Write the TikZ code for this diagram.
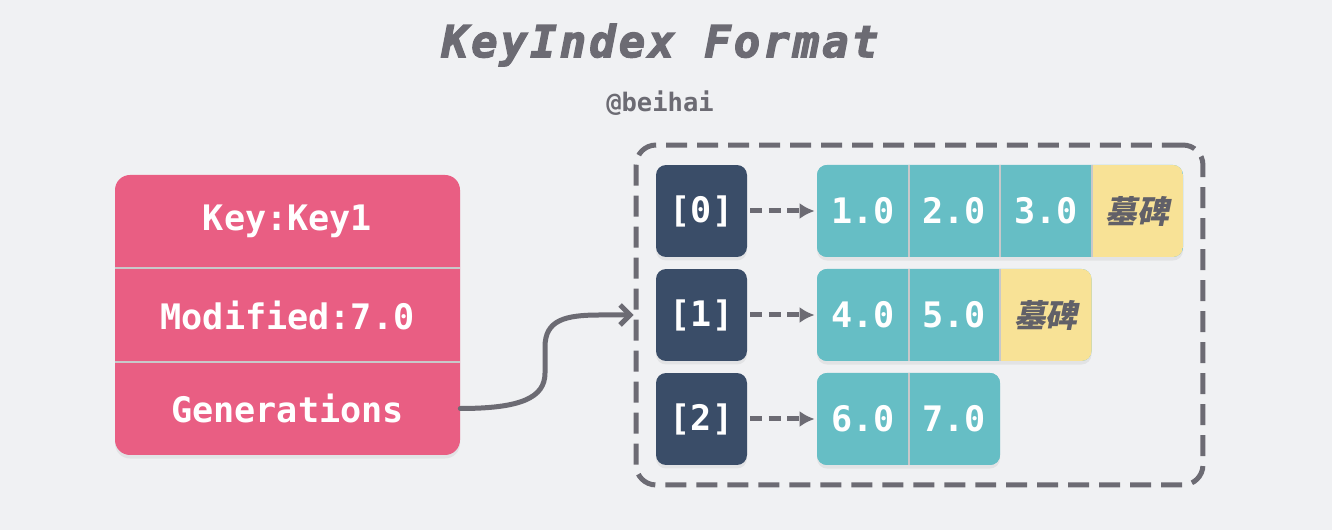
\documentclass[tikz,border=0pt]{standalone}
\usepackage{fontspec}
\usetikzlibrary{arrows.meta,shadows}
\newfontfamily\titlefont[LetterSpace=7,BoldItalicFeatures={FakeBold=3}]{DejaVu Sans Mono}
\newfontfamily\monofont{DejaVu Sans Mono}
\newfontfamily\cjk[FakeSlant=0.2]{Noto Sans CJK SC}
\definecolor{bgcol}{HTML}{F0F1F3}
\definecolor{keypink}{HTML}{E95E83}
\definecolor{navy}{HTML}{3A4D68}
\definecolor{cellteal}{HTML}{66BEC5}
\definecolor{tombyellow}{HTML}{F8E296}
\definecolor{inkgray}{HTML}{6C6B73}
\definecolor{divgray}{HTML}{C8C8CA}
\tikzset{>={Latex[length=0.3cm,width=0.32cm]}}
\tikzset{
    softshadow/.style={drop shadow={shadow xshift=0pt,shadow yshift=-2pt,opacity=0.12}},
    keyrow/.style={minimum width=6.9cm,minimum height=1.86cm,inner sep=0pt,
        text=white,font=\monofont\bfseries\fontsize{20}{24}\selectfont},
    idxbox/.style={fill=navy,rounded corners=0.2cm,minimum width=1.82cm,minimum height=1.84cm,
        inner sep=0pt,text=white,font=\monofont\bfseries\fontsize{20}{24}\selectfont,softshadow},
    numcell/.style={fill=cellteal,minimum width=1.83cm,minimum height=1.84cm,inner sep=0pt,
        text=white,font=\monofont\bfseries\fontsize{20}{24}\selectfont},
    tombcell/.style={numcell,fill=tombyellow,text=inkgray!90!black,font=\cjk\bfseries\fontsize{18}{22}\selectfont},
    celldiv/.style={divgray,line width=0.04cm},
    dasharrow/.style={->,inkgray,line width=0.1cm,dash pattern=on 0.24cm off 0.13cm,
        shorten <=0.06cm,shorten >=0.04cm},
}

\begin{document}
\begin{tikzpicture}[x=0.02cm,y=0.02cm]
    \fill[bgcol] (0,0) rectangle (1332,530);
    \useasboundingbox (0,0) rectangle (1332,530);
    % title
    \node[text=inkgray,font=\titlefont\bfseries\itshape\fontsize{25}{30}\selectfont] (title) at (660,485) {KeyIndex Format};
    \node[text=inkgray,font=\monofont\bfseries\fontsize{14.5}{18}\selectfont] (author) at (660,427) {@beihai};
    % key entry
    \fill[keypink,rounded corners=0.3cm,softshadow] (115,75) rectangle (460,355);
    \node[keyrow] (key) at (287.5,308.5) {Key:Key1};
    \node[keyrow] (mod) at (287.5,215) {Modified:7.0};
    \node[keyrow] (gen) at (287.5,121.5) {Generations};
    \draw[divgray,line width=0.04cm] (key.south west) -- (key.south east);
    \draw[divgray,line width=0.04cm] (mod.south west) -- (mod.south east);
    % generations
    \node[draw=inkgray,line width=0.1cm,dash pattern=on 0.42cm off 0.2cm,rounded corners=0.4cm,
        minimum width=11.34cm,minimum height=6.8cm] (frame) at (919.5,215) {};
    \node[idxbox] (i0) at (701.5,319) {[0]};
    \node[idxbox] (i1) at (701.5,215) {[1]};
    \node[idxbox] (i2) at (701.5,111) {[2]};
    % row 0
    \fill[cellteal,rounded corners=0.2cm,softshadow] (817,273) rectangle (1183,365);
    \begin{scope}
        \clip[rounded corners=0.2cm] (817,273) rectangle (1183,365);
        \node[numcell] (c01) at (862.75,319) {1.0};
        \node[numcell] (c02) at (954.25,319) {2.0};
        \node[numcell] (c03) at (1045.75,319) {3.0};
        \node[tombcell] (t0) at (1137.25,319) {墓碑};
    \end{scope}
    \draw[celldiv] (c01.north east) -- (c01.south east);
    \draw[celldiv] (c02.north east) -- (c02.south east);
    \draw[celldiv] (c03.north east) -- (c03.south east);
    % row 1
    \fill[cellteal,rounded corners=0.2cm,softshadow] (817,169) rectangle (1091.5,261);
    \begin{scope}
        \clip[rounded corners=0.2cm] (817,169) rectangle (1091.5,261);
        \node[numcell] (c11) at (862.75,215) {4.0};
        \node[numcell] (c12) at (954.25,215) {5.0};
        \node[tombcell] (t1) at (1045.75,215) {墓碑};
    \end{scope}
    \draw[celldiv] (c11.north east) -- (c11.south east);
    \draw[celldiv] (c12.north east) -- (c12.south east);
    % row 2
    \fill[cellteal,rounded corners=0.2cm,softshadow] (817,65) rectangle (1000,157);
    \begin{scope}
        \clip[rounded corners=0.2cm] (817,65) rectangle (1000,157);
        \node[numcell] (c21) at (862.75,111) {6.0};
        \node[numcell] (c22) at (954.25,111) {7.0};
    \end{scope}
    \draw[celldiv] (c21.north east) -- (c21.south east);
    % pointers
    \draw[dasharrow] (i0) -- (c01);
    \draw[dasharrow] (i1) -- (c11);
    \draw[dasharrow] (i2) -- (c21);
    \draw[inkgray,line width=0.1cm,line cap=round,-{Straight Barb[length=0.2cm,width=0.4cm]}]
        (gen.east) .. controls +(60,0) and +(0,-25) .. (545,157) -- (545,183)
        .. controls +(0,27) and +(-35,0) .. (600,215) -- (frame.west);
\end{tikzpicture}
\end{document}
